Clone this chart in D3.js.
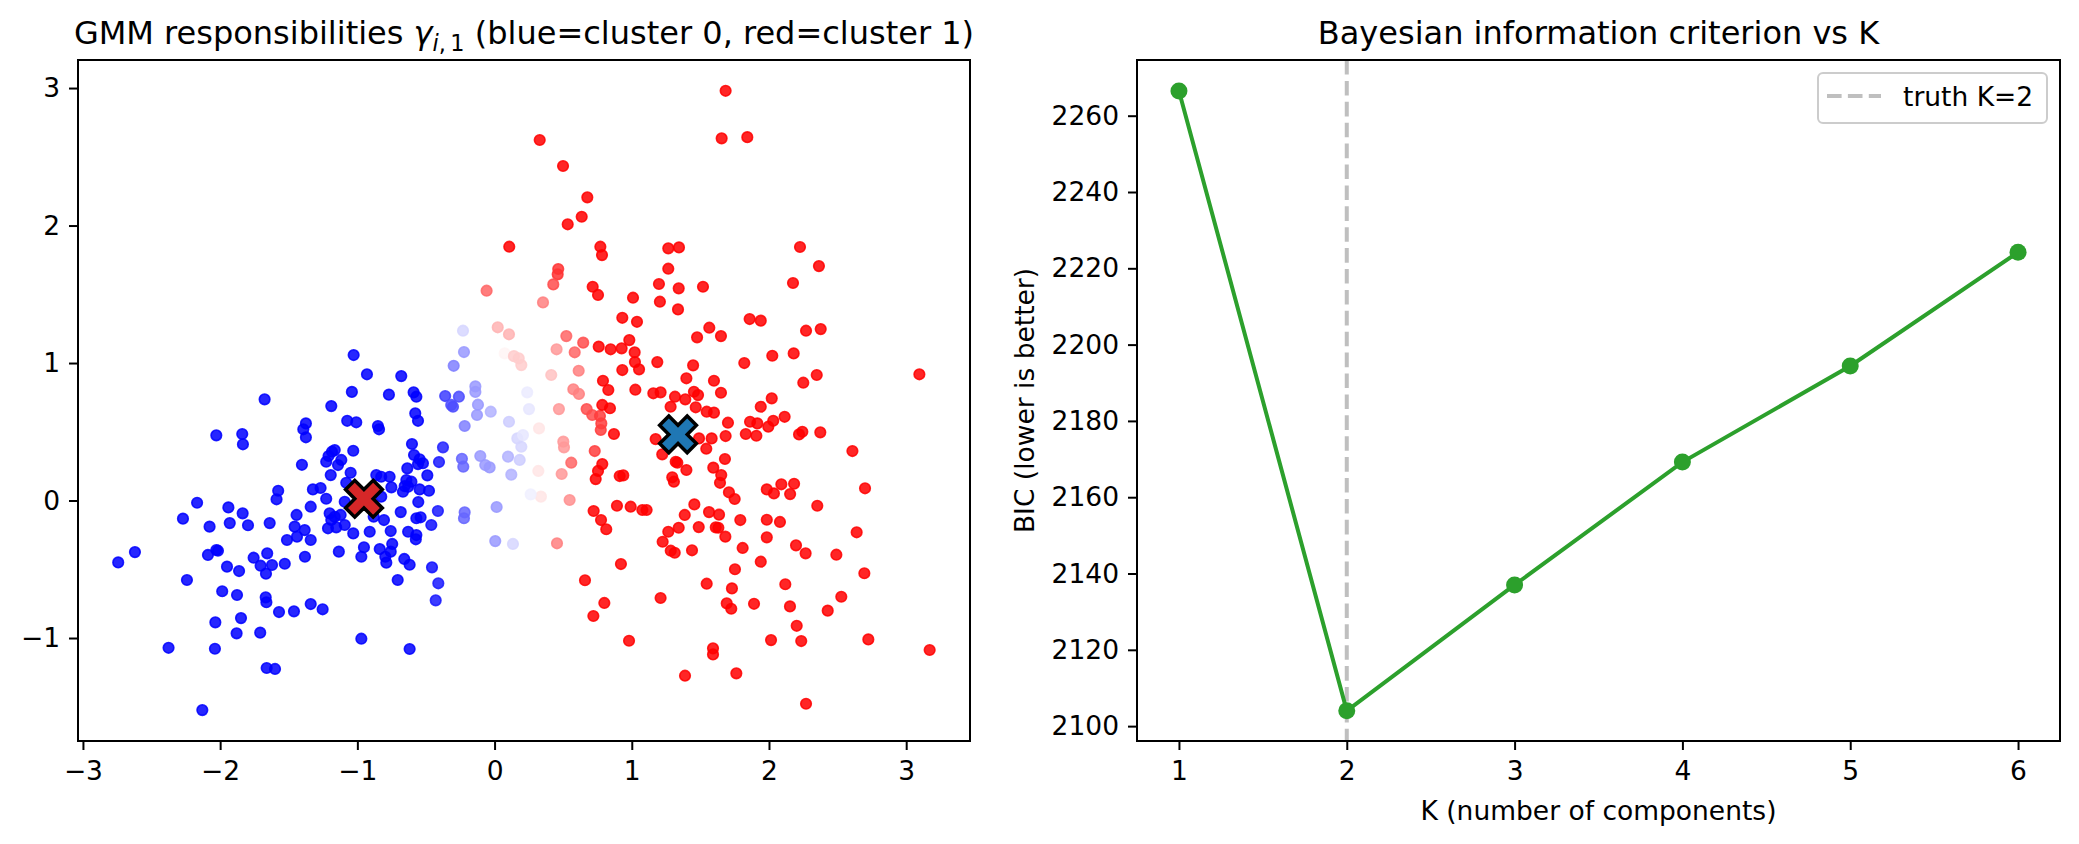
<!DOCTYPE html>
<html>
<head>
<meta charset="utf-8">
<script src="https://cdn.jsdelivr.net/npm/d3@7"></script>
<style>
  body { margin: 0; background: #fff; }
  text { font-family: "DejaVu Sans", sans-serif; fill: #000; }
</style>
</head>
<body>
<svg id="fig" width="2079" height="844"></svg>
<script>
// points, gamma = responsibility for cluster 1
const bluePts = [
  [-1.027,1.058],[-0.93,0.918],[-0.68,0.905],[-1.04,0.79],[-0.77,0.77],[-0.59,0.787],[-0.57,0.755],[-1.676,0.736],
  [-1.19,0.687],[-0.578,0.634],[-0.558,0.58],[-1.074,0.58],[-1.008,0.569],[-0.85,0.542],[-0.842,0.518],[-1.375,0.561],
  [-1.394,0.518],[-1.375,0.46],[-2.028,0.474],[-1.839,0.484],[-1.834,0.409],[-0.602,0.411],[-1.185,0.355],[-1.165,0.367],
  [-1.21,0.324],[-1.03,0.362],[-1.227,0.282],[-1.117,0.295],[-1.141,0.258],[-1.404,0.26],[-1.194,0.185],[-1.049,0.202],
  [-0.587,0.331],[-0.546,0.3],[-0.522,0.271],[-0.558,0.265],[-0.636,0.234],[-0.49,0.183],[-0.862,0.185],[-0.826,0.173],
  [-0.765,0.173],[-0.643,0.149],[-0.606,0.137],[-0.655,0.105],[-0.63,0.1],[-0.752,0.096],[-0.668,0.064],[-0.546,0.081],
  [-0.478,0.071],[-1.081,0.129],[-1.324,0.081],[-1.268,0.091],[-1.577,0.071],[-1.589,0.009],[-1.227,0.013],[-1.092,-0.009],
  [-0.826,0.028],[-0.556,-0.011],[-2.168,-0.016],[-1.94,-0.05],[-1.836,-0.093],[-1.34,-0.045],[-2.271,-0.132],[-2.077,-0.19],
  [-1.93,-0.164],[-1.797,-0.18],[-1.639,-0.164],[-1.443,-0.105],[-1.457,-0.19],[-1.384,-0.215],[-1.44,-0.263],[-1.513,-0.287],
  [-1.34,-0.287],[-1.202,-0.093],[-1.165,-0.118],[-1.122,-0.105],[-1.19,-0.142],[-1.214,-0.202],[-1.154,-0.195],[-1.092,-0.178],
  [-1.03,-0.239],[-0.91,-0.227],[-0.881,-0.118],[-0.806,-0.142],[-0.684,-0.084],[-0.757,-0.222],[-0.57,-0.129],[-0.539,-0.122],
  [-0.63,-0.227],[-0.57,-0.251],[-0.574,-0.282],[-0.746,-0.316],[-0.757,-0.372],[-0.837,-0.353],[-0.952,-0.34],[-0.971,-0.409],
  [-0.796,-0.409],[-0.789,-0.452],[-1.135,-0.372],[-1.382,-0.409],[-1.657,-0.384],[-1.756,-0.416],[-1.705,-0.474],[-1.622,-0.469],
  [-1.666,-0.532],[-1.529,-0.46],[-2.028,-0.36],[-2.016,-0.365],[-2.089,-0.396],[-1.95,-0.481],[-1.862,-0.513],[-2.621,-0.375],
  [-2.743,-0.45],[-2.242,-0.578],[-0.658,-0.425],[-0.619,-0.467],[-0.706,-0.578],[-1.985,-0.66],[-1.877,-0.687],[-1.668,-0.704],
  [-1.663,-0.74],[-1.571,-0.811],[-1.462,-0.806],[-1.34,-0.753],[-1.253,-0.791],[-1.848,-0.855],[-2.035,-0.886],[-1.88,-0.966],
  [-1.708,-0.961],[-2.376,-1.071],[-2.038,-1.078],[-0.971,-1.005],[-0.619,-1.08],[-1.661,-1.218],[-1.6,-1.225],[-2.13,-1.524]
];

const redPts = [
  [0.107,1.846],[1.684,2.98],[0.329,2.622],[1.655,2.634],[1.842,2.643],[0.499,2.433],[0.676,2.205],[0.635,2.064],[0.533,2.009],
  [0.771,1.846],[0.783,1.785],[1.266,1.834],[1.344,1.841],[2.226,1.844],[2.364,1.705],[2.175,1.582],[1.266,1.686],[0.715,1.555],
  [0.754,1.495],[1.198,1.575],[1.342,1.543],[1.519,1.555],[1.205,1.446],[1.337,1.39],[1.009,1.475],[0.931,1.329],[1.038,1.3],
  [1.859,1.32],[1.94,1.308],[1.565,1.257],[1.65,1.196],[1.476,1.187],[2.27,1.235],[2.377,1.247],[0.759,1.119],[0.846,1.1],
  [0.926,1.107],[0.982,1.167],[1.021,1.078],[1.023,1.007],[1.053,0.954],[0.931,0.949],[1.186,1.007],[1.447,0.983],[1.398,0.889],
  [1.599,0.871],[1.82,1.0],[2.024,1.053],[2.18,1.07],[2.348,0.913],[2.25,0.857],[3.096,0.918],[0.79,0.871],[0.829,0.804],
  [1.026,0.806],[1.157,0.78],[1.21,0.787],[1.315,0.755],[1.39,0.736],[1.453,0.791],[1.483,0.767],[1.65,0.784],[2.02,0.743],
  [0.785,0.695],[0.841,0.671],[1.283,0.682],[1.466,0.678],[1.94,0.682],[1.546,0.646],[1.599,0.639],[1.701,0.566],[1.862,0.573],
  [1.915,0.561],[2.031,0.58],[1.995,0.537],[2.114,0.609],[2.243,0.5],[2.219,0.481],[2.374,0.496],[1.831,0.484],[1.908,0.471],
  [1.684,0.469],[1.582,0.452],[1.49,0.452],[1.174,0.447],[1.543,0.377],[2.608,0.36],[0.87,0.484],[0.785,0.265],[0.754,0.215],
  [0.737,0.156],[0.912,0.178],[0.938,0.183],[1.222,0.336],[1.32,0.282],[1.332,0.275],[1.398,0.222],[1.295,0.169],[1.307,0.137],
  [1.679,0.302],[1.594,0.239],[1.652,0.185],[1.643,0.129],[1.708,0.06],[1.75,0.011],[1.984,0.081],[2.036,0.052],[2.09,0.118],
  [2.183,0.122],[2.154,0.047],[2.7,0.089],[2.352,-0.038],[0.722,-0.076],[0.776,-0.142],[0.814,-0.209],[0.892,-0.038],[0.992,-0.045],
  [1.077,-0.069],[1.108,-0.069],[1.456,-0.028],[1.386,-0.105],[1.563,-0.084],[1.636,-0.103],[1.791,-0.142],[1.984,-0.14],[2.08,-0.156],
  [2.639,-0.231],[1.342,-0.198],[1.266,-0.227],[1.225,-0.3],[1.284,-0.365],[1.313,-0.38],[1.488,-0.193],[1.612,-0.195],[1.631,-0.198],
  [1.682,-0.263],[1.439,-0.362],[1.808,-0.345],[1.984,-0.268],[2.197,-0.326],[2.267,-0.384],[2.491,-0.394],[1.94,-0.445],[1.752,-0.5],
  [2.695,-0.529],[0.921,-0.462],[0.659,-0.58],[1.546,-0.605],[1.73,-0.639],[2.119,-0.609],[2.527,-0.7],[1.21,-0.709],[0.8,-0.745],
  [0.72,-0.84],[1.692,-0.748],[1.725,-0.787],[1.891,-0.751],[2.153,-0.77],[2.428,-0.801],[2.202,-0.911],[0.98,-1.02],[1.592,-1.075],
  [1.592,-1.119],[2.015,-1.015],[2.235,-1.022],[2.724,-1.01],[3.171,-1.087],[1.388,-1.274],[1.762,-1.257],[2.27,-1.478]
];

// [x, y, gamma] for the points in between
const mixedPts = [
  [-0.405,0.28,0.05],[-0.413,-0.076,0.05],[-0.461,-0.178,0.03],[-0.456,-0.486,0.03],[-0.41,-0.602,0.05],[-0.429,-0.726,0.05],
  [-0.376,0.387,0.07],[-0.058,1.526,0.8],[-0.23,1.235,0.42],[0.023,1.26,0.65],[0.105,1.209,0.65],[-0.223,1.08,0.3],
  [0.074,1.07,0.52],[0.141,1.05,0.6],[0.176,1.034,0.6],[0.195,0.985,0.6],[-0.298,0.98,0.25],[-0.36,0.76,0.12],[-0.26,0.755,0.15],
  [-0.14,0.83,0.3],[-0.14,0.79,0.3],[-0.316,0.695,0.15],[-0.303,0.682,0.15],[-0.121,0.697,0.3],[-0.128,0.622,0.3],
  [-0.028,0.646,0.35],[0.105,0.573,0.4],[-0.218,0.542,0.25],[0.166,0.452,0.42],[0.207,0.476,0.45],[0.195,0.391,0.42],
  [0.098,0.319,0.35],[0.183,0.295,0.4],[0.122,0.188,0.35],[-0.238,0.304,0.2],[-0.228,0.246,0.2],[-0.104,0.324,0.3],
  [-0.068,0.258,0.3],[-0.036,0.241,0.3],[-0.218,-0.086,0.2],[-0.223,-0.129,0.2],[0.015,-0.047,0.3],[0.005,-0.295,0.3],
  [0.134,-0.316,0.42],[0.464,1.684,0.9],[0.46,1.645,0.9],[0.428,1.572,0.85],[0.353,1.441,0.75],[0.523,1.196,0.8],
  [0.646,1.148,0.85],[0.452,1.1,0.7],[0.584,1.078,0.8],[0.613,0.944,0.75],[0.413,0.913,0.62],[0.574,0.809,0.75],
  [0.615,0.775,0.75],[0.238,0.787,0.46],[0.469,0.665,0.7],[0.251,0.665,0.45],[0.671,0.665,0.85],[0.712,0.622,0.85],
  [0.768,0.615,0.88],[0.778,0.561,0.88],[0.774,0.513,0.88],[0.324,0.525,0.55],[0.501,0.428,0.7],[0.506,0.387,0.7],
  [0.73,0.36,0.88],[0.559,0.275,0.8],[0.489,0.193,0.7],[0.319,0.215,0.55],[0.547,0.004,0.72],[0.338,0.028,0.55],
  [0.263,0.045,0.47],[0.455,-0.311,0.75]
];

const centerX = [-0.952, 1.337];
const centerY = [0.013, 0.481];
const centerColors = ["#d62728", "#1f77b4"];

const leftXTicks = [-3, -2, -1, 0, 1, 2, 3];
const leftYTicks = [-1, 0, 1, 2, 3];

const kValues = [1, 2, 3, 4, 5, 6];
const bicValues = [2266.5, 2104.0, 2137.0, 2169.2, 2194.4, 2224.2];
const trueK = 2;
const bicTicks = [2100, 2120, 2140, 2160, 2180, 2200, 2220, 2240, 2260];

const svg = d3.select("#fig");
const tickFont = 26.5, titleFont = 32;
const fmt = d3.format("d");   // d3 v7 gives the unicode minus

const bwr = d3.piecewise(d3.interpolateRgb, ["#0000ff", "#ffffff", "#ff0000"]);

function styleAxis(g) {
  g.select(".domain").remove();
  g.selectAll(".tick line").attr("stroke", "#000").attr("stroke-width", 2);
  g.selectAll(".tick text").attr("font-size", tickFont).attr("font-family", "DejaVu Sans").attr("fill", "#000");
}

function frame(b) {
  svg.append("rect")
    .attr("x", b.left).attr("y", b.top)
    .attr("width", b.right - b.left).attr("height", b.bottom - b.top)
    .attr("fill", "none").attr("stroke", "#000").attr("stroke-width", 2);
}

// ---------- left panel: responsibilities ----------
const L = {left: 78, right: 970, top: 60, bottom: 741};
const xL = d3.scaleLinear().domain([-3.036, 3.465]).range([L.left, L.right]);
const yL = d3.scaleLinear().domain([-1.749, 3.204]).range([L.bottom, L.top]);

svg.append("g").attr("transform", "translate(0," + L.bottom + ")")
  .call(d3.axisBottom(xL).tickValues(leftXTicks).tickFormat(fmt).tickSize(9).tickPadding(11))
  .call(styleAxis);
svg.append("g").attr("transform", "translate(" + L.left + ",0)")
  .call(d3.axisLeft(yL).tickValues(leftYTicks).tickFormat(fmt).tickSize(9).tickPadding(9))
  .call(styleAxis);

const allPts = bluePts.map(p => ({x: p[0], y: p[1], g: 0}))
  .concat(mixedPts.map(p => ({x: p[0], y: p[1], g: p[2]})))
  .concat(redPts.map(p => ({x: p[0], y: p[1], g: 1})));

svg.append("g").selectAll("circle")
  .data(allPts)
  .enter().append("circle")
  .attr("cx", d => xL(d.x))
  .attr("cy", d => yL(d.y))
  .attr("r", 5.3)
  .attr("fill", d => bwr(d.g))
  .attr("fill-opacity", 0.85)
  .attr("stroke", d => bwr(d.g))
  .attr("stroke-opacity", 0.85)
  .attr("stroke-width", 1.6);

// filled X marker (plus rotated 45 deg)
const plusPts = [[-1,-3],[1,-3],[1,-1],[3,-1],[3,1],[1,1],[1,3],[-1,3],[-1,1],[-3,1],[-3,-1],[-1,-1]];
const xSize = 39;
const xMarker = "M" + plusPts.map(p => {
  const a = Math.PI / 4, px = p[0] / 6 * xSize, py = p[1] / 6 * xSize;
  return [px * Math.cos(a) - py * Math.sin(a), px * Math.sin(a) + py * Math.cos(a)].join(",");
}).join("L") + "Z";

svg.append("g").selectAll("path")
  .data(centerX.map((c, i) => ({x: c, y: centerY[i], color: centerColors[i]})))
  .enter().append("path")
  .attr("d", xMarker)
  .attr("transform", d => "translate(" + xL(d.x) + "," + yL(d.y) + ")")
  .attr("fill", d => d.color)
  .attr("stroke", "#000")
  .attr("stroke-width", 3.5)
  .attr("stroke-linejoin", "miter");

frame(L);

const t1 = svg.append("text")
  .attr("x", (L.left + L.right) / 2).attr("y", 44)
  .attr("text-anchor", "middle").attr("font-size", titleFont);
t1.append("tspan").text("GMM responsibilities ");
t1.append("tspan").attr("font-style", "italic").text("γ");
t1.append("tspan").attr("font-size", titleFont * 0.7).attr("font-style", "italic").attr("dy", 7).text("i");
t1.append("tspan").attr("font-size", titleFont * 0.7).text(",\u20091");
t1.append("tspan").attr("dy", -7).text(" (blue=cluster 0, red=cluster 1)");

// ---------- right panel: BIC ----------
const R = {left: 1137, right: 2060, top: 60, bottom: 741};
const xR = d3.scaleLinear().domain([0.75, 6.25]).range([R.left, R.right]);
const yR = d3.scaleLinear().domain([2096.1, 2274.6]).range([R.bottom, R.top]);

svg.append("g").attr("transform", "translate(0," + R.bottom + ")")
  .call(d3.axisBottom(xR).tickValues(kValues).tickFormat(fmt).tickSize(9).tickPadding(11))
  .call(styleAxis);
svg.append("g").attr("transform", "translate(" + R.left + ",0)")
  .call(d3.axisLeft(yR).tickValues(bicTicks).tickFormat(fmt).tickSize(9).tickPadding(9))
  .call(styleAxis);

svg.append("line")
  .attr("x1", xR(trueK)).attr("x2", xR(trueK))
  .attr("y1", R.top).attr("y2", R.bottom)
  .attr("stroke", "#808080").attr("stroke-opacity", 0.5)
  .attr("stroke-width", 4).attr("stroke-dasharray", "14.6,6.3");

const bic = kValues.map((k, i) => ({k: k, v: bicValues[i]}));
svg.append("path")
  .datum(bic)
  .attr("fill", "none").attr("stroke", "#2ca02c").attr("stroke-width", 4)
  .attr("d", d3.line().x(d => xR(d.k)).y(d => yR(d.v)));
svg.selectAll(".bicdot")
  .data(bic)
  .enter().append("circle")
  .attr("class", "bicdot")
  .attr("cx", d => xR(d.k)).attr("cy", d => yR(d.v))
  .attr("r", 8.5).attr("fill", "#2ca02c");

frame(R);

// legend
const lg = svg.append("g");
lg.append("rect").attr("x", 1818).attr("y", 73).attr("width", 229).attr("height", 50).attr("rx", 5)
  .attr("fill", "#fff").attr("fill-opacity", 0.8).attr("stroke", "#cccccc").attr("stroke-width", 2);
lg.append("line").attr("x1", 1827).attr("x2", 1881).attr("y1", 96).attr("y2", 96)
  .attr("stroke", "#808080").attr("stroke-opacity", 0.5)
  .attr("stroke-width", 4).attr("stroke-dasharray", "14.6,6.3");
lg.append("text").attr("x", 1903).attr("y", 96).attr("dy", "0.36em")
  .attr("font-size", tickFont).text("truth K=2");

svg.append("text")
  .attr("x", (R.left + R.right) / 2).attr("y", 44)
  .attr("text-anchor", "middle").attr("font-size", titleFont)
  .text("Bayesian information criterion vs K");
svg.append("text")
  .attr("x", (R.left + R.right) / 2).attr("y", 820)
  .attr("text-anchor", "middle").attr("font-size", tickFont)
  .text("K (number of components)");
svg.append("text")
  .attr("transform", "translate(1034," + (R.top + R.bottom) / 2 + ") rotate(-90)")
  .attr("text-anchor", "middle").attr("font-size", tickFont)
  .text("BIC (lower is better)");
</script>
</body>
</html>
